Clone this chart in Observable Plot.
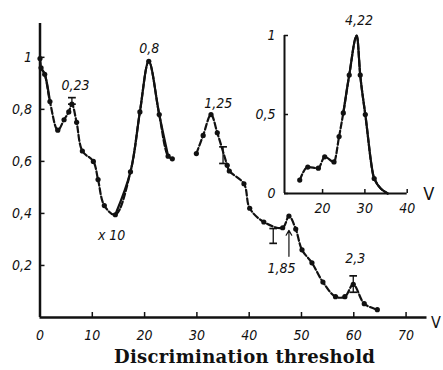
<!DOCTYPE html>
<html>
<head>
<meta charset="utf-8">
<script src="https://cdn.jsdelivr.net/npm/d3@7"></script>
<script src="https://cdn.jsdelivr.net/npm/@observablehq/plot@0.6"></script>
<style>
  html, body { margin: 0; padding: 0; background: #fff; }
  #wrap { position: relative; width: 443px; height: 370px; overflow: hidden; background: #fff; }
  #inset { position: absolute; left: 250px; top: 0; }
  #title { position: absolute; left: 114px; top: 348px; font-family: "DejaVu Serif", "Liberation Serif", serif; font-weight: bold; font-size: 18px; letter-spacing: 0.3px; line-height: 1; color: #111; white-space: nowrap; }
</style>
</head>
<body>
<div id="wrap">
  <div id="main"></div>
  <div id="inset"></div>
  <div id="title">Discrimination threshold</div>
</div>
<script>
// ---- main curve, left branch ----
const leftX = [0, 0.2, 0.9, 1.9, 3.4, 4.6, 5.5, 6.1, 7.0, 8.1, 10.2, 11.1, 12.3, 14.4, 17.3, 19.1, 20.8, 22.8, 24.5, 25.3];
const leftY = [0.995, 0.96, 0.935, 0.83, 0.72, 0.76, 0.79, 0.82, 0.75, 0.64, 0.60, 0.53, 0.43, 0.395, 0.56, 0.79, 0.985, 0.78, 0.62, 0.61];
// ---- main curve, right branch ----
const rightX = [29.9, 31.2, 32.7, 33.9, 35.8, 36.2, 39.0, 40.1, 42.8, 46.4, 47.6, 48.9, 50.1, 52.0, 54.1, 56.5, 58.3, 59.9, 62.0, 64.5];
const rightY = [0.63, 0.70, 0.78, 0.71, 0.585, 0.563, 0.514, 0.42, 0.367, 0.345, 0.39, 0.34, 0.26, 0.21, 0.136, 0.08, 0.08, 0.127, 0.053, 0.03];
// ---- error bars ----
const errX  = [6.1, 35.0, 44.6, 59.9];
const errLo = [0.82, 0.592, 0.285, 0.097];
const errHi = [0.845, 0.656, 0.342, 0.16];
// ---- arrow ----
const arrowX = [47.6];
const arrowLo = [0.235];
const arrowHi = [0.335];
// ---- annotations ----
const noteText = ["0,23", "0,8", "x 10", "1,25", "1,85", "2,3"];
const noteX = [6.8, 20.9, 13.7, 34.1, 46.2, 60.3];
const noteY = [0.89, 1.035, 0.315, 0.823, 0.19, 0.227];
// ---- ticks ----
const xTicks = [0, 10, 20, 30, 40, 50, 60, 70];
const yTicks = [0.2, 0.4, 0.6, 0.8, 1];
// ---- inset ----
const insetX = [14.6, 16.5, 19.0, 20.5, 22.7, 23.9, 24.9, 26.3, 28.1, 28.9, 30.1, 32.2, 35.4];
const insetY = [0.085, 0.167, 0.16, 0.232, 0.2, 0.36, 0.51, 0.75, 1.0, 0.75, 0.50, 0.095, 0.0];
const insetDotX = [14.6, 16.5, 19.0, 20.5, 22.7, 23.9, 24.9, 26.3, 28.9, 30.1, 32.2];
const insetDotY = [0.085, 0.167, 0.16, 0.232, 0.2, 0.36, 0.51, 0.75, 0.75, 0.50, 0.095];
const insetNoteText = ["4,22"];
const insetNoteX = [28.6];
const insetNoteY = [1.095];
const insetXTicks = [20, 30, 40];
const insetYTicks = [0, 0.5, 1];

const ink = "#111";
const tickFont = {
  fontFamily: "'DejaVu Sans Condensed', 'Liberation Sans Narrow', 'DejaVu Sans', sans-serif",
  fontStyle: "italic",
  fontStretch: "condensed",
  fontSize: "14px",
  background: "transparent",
  color: ink,
  overflow: "visible"
};
const comma = d => String(d).replace(".", ",");

const left = leftX.map((x, i) => ({x, y: leftY[i]}));
const right = rightX.map((x, i) => ({x, y: rightY[i]}));
const errs = errX.map((x, i) => ({x, lo: errLo[i], hi: errHi[i]}));
const arrows = arrowX.map((x, i) => ({x, lo: arrowLo[i], hi: arrowHi[i]}));
const notes = noteText.map((t, i) => ({t, x: noteX[i], y: noteY[i]}));

const lineStyle = {x: "x", y: "y", curve: "catmull-rom", stroke: ink, strokeWidth: 2.2};

const main = Plot.plot({
  width: 443, height: 340,
  marginLeft: 39.5, marginRight: 16.5, marginTop: 23, marginBottom: 23,
  x: {domain: [0, 74], label: null},
  y: {domain: [0, 1.13], label: null},
  style: tickFont,
  marks: [
    Plot.ruleY([0], {stroke: ink, strokeWidth: 2.5}),
    Plot.ruleX([0], {stroke: ink, strokeWidth: 2.5}),
    Plot.axisX({ticks: xTicks, label: null, tickSize: -5, tickPadding: 18, tickFormat: d => String(d), stroke: ink, fill: ink, strokeWidth: 1.5}),
    Plot.axisY({ticks: yTicks, label: null, tickSize: -5, tickPadding: 13, tickFormat: comma, stroke: ink, fill: ink, strokeWidth: 1.5}),
    Plot.line(left, {...lineStyle, strokeDasharray: "6,2.5"}),
    Plot.line(left, {...lineStyle, z: d => (d.x <= 1.9 ? "a" : "b"), filter: d => d.x <= 1.9 || (d.x >= 14.4 && d.x <= 24.5)}),
    Plot.line(right, {...lineStyle, strokeDasharray: "6,2.5"}),
    Plot.dot(left, {x: "x", y: "y", r: 2.6, fill: ink}),
    Plot.dot(right, {x: "x", y: "y", r: 2.6, fill: ink}),
    Plot.link(errs, {x1: "x", x2: "x", y1: "lo", y2: "hi", stroke: ink, strokeWidth: 1.3, markerEnd: "tick-x", markerStart: "tick-x"}),
    Plot.arrow(arrows, {x1: "x", x2: "x", y1: "lo", y2: "hi", stroke: ink, strokeWidth: 1.2, headLength: 7}),
    Plot.text(notes, {x: "x", y: "y", text: "t", fill: ink, fontSize: 14}),
    Plot.text(["V"], {frameAnchor: "bottom-right", dx: 4, dy: 10, textAnchor: "start", fill: ink, fontSize: 16, fontStyle: "normal"})
  ]
});
document.getElementById("main").appendChild(main);

const inset = insetX.map((x, i) => ({x, y: insetY[i]}));
const insetDots = insetDotX.map((x, i) => ({x, y: insetDotY[i]}));
const insetNotes = insetNoteText.map((t, i) => ({t, x: insetNoteX[i], y: insetNoteY[i]}));
const insetLine = {x: "x", y: "y", curve: "monotone-x", stroke: ink, strokeWidth: 2.2};

const insetPlot = Plot.plot({
  width: 193, height: 215,
  marginLeft: 34, marginRight: 36.3, marginTop: 35, marginBottom: 22,
  x: {domain: [11, 40], label: null},
  y: {domain: [0, 1], label: null},
  style: tickFont,
  marks: [
    Plot.ruleY([0], {stroke: ink, strokeWidth: 2}),
    Plot.ruleX([11], {stroke: ink, strokeWidth: 2}),
    Plot.axisX({ticks: insetXTicks, label: null, tickSize: -4, tickPadding: 14, tickFormat: d => String(d), stroke: ink, fill: ink, strokeWidth: 1.5}),
    Plot.axisY({ticks: insetYTicks, label: null, tickSize: -4, tickPadding: 13, tickFormat: comma, stroke: ink, fill: ink, strokeWidth: 1.5}),
    Plot.line(inset, {...insetLine, strokeDasharray: "6,2.5"}),
    Plot.line(inset, {...insetLine, filter: d => d.x >= 24.9}),
    Plot.dot(insetDots, {x: "x", y: "y", r: 2.6, fill: ink}),
    Plot.text(insetNotes, {x: "x", y: "y", text: "t", fill: ink, fontSize: 14}),
    Plot.text(["V"], {frameAnchor: "bottom-right", dx: 16, dy: 6, textAnchor: "start", fill: ink, fontSize: 18, fontStyle: "normal"})
  ]
});
document.getElementById("inset").appendChild(insetPlot);
</script>
</body>
</html>
